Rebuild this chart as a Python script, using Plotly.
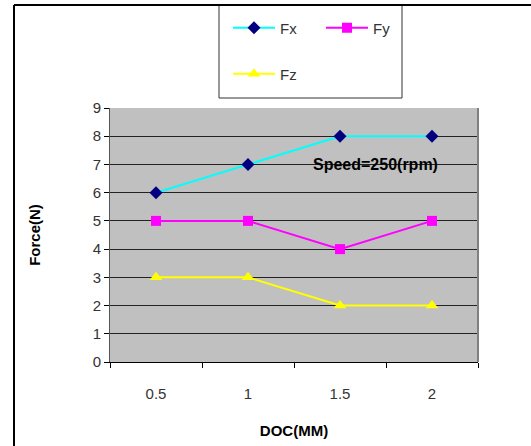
import plotly.graph_objects as go

doc = ["0.5", "1", "1.5", "2"]
fx = [6, 7, 8, 8]
fy = [5, 5, 4, 5]
fz = [3, 3, 2, 2]

L, R, T, B = 110, 53, 108, 84
W, H = 531, 446
pw, ph = W - L - R, H - T - B

def px(x):
    return (x - L) / pw

def py(y):
    return (H - B - y) / ph

fig = go.Figure()
fig.add_trace(go.Scatter(x=doc, y=fx, name="Fx", mode="lines+markers",
                         line=dict(color="#00FFFF", width=2),
                         marker=dict(symbol="diamond", size=10, color="#000080"),
                         legend="legend"))
fig.add_trace(go.Scatter(x=doc, y=fy, name="Fy", mode="lines+markers",
                         line=dict(color="#FF00FF", width=2),
                         marker=dict(symbol="square", size=10, color="#FF00FF"),
                         legend="legend"))
fig.add_trace(go.Scatter(x=doc, y=fz, name="Fz", mode="lines+markers",
                         line=dict(color="#FFFF00", width=2),
                         marker=dict(symbol="triangle-up", size=11, color="#FFFF00"),
                         legend="legend2"))

font_main = "Liberation Sans, Arial, sans-serif"

fig.update_layout(
    width=W, height=H,
    margin=dict(l=L, r=R, t=T, b=B, autoexpand=False),
    paper_bgcolor="white",
    plot_bgcolor="#C0C0C0",
    font=dict(family=font_main, size=14, color="#222"),
    legend=dict(orientation="h", x=px(228), y=py(28), xanchor="left", yanchor="middle",
                bgcolor="rgba(0,0,0,0)", itemwidth=42, entrywidth=36, entrywidthmode="pixels",
                font=dict(size=15, color="#333")),
    legend2=dict(orientation="h", x=px(228), y=py(74), xanchor="left", yanchor="middle",
                 bgcolor="rgba(0,0,0,0)", itemwidth=42,
                 font=dict(size=15, color="#333")),
    xaxis=dict(type="category", range=[-0.5, 3.5], tickson="boundaries", ticks="outside", ticklen=5,
               tickcolor="black", showline=True, linecolor="black", linewidth=1,
               showgrid=False, tickfont=dict(size=15, color="#333"), automargin=False,
               ticklabelstandoff=18,
               title=dict(text="<b>DOC(MM)</b>", font=dict(size=15, color="black"), standoff=24)),
    yaxis=dict(range=[0, 9], dtick=1, ticks="outside", ticklen=5, tickcolor="black",
               showline=True, linecolor="#555", linewidth=1, automargin=False,
               showgrid=True, gridcolor="#222", gridwidth=1, zeroline=False,
               tickfont=dict(size=15, color="#333"),
               title=dict(text="<b>Force(N)</b>", font=dict(size=15, color="black"), standoff=48)),
    showlegend=True,
)

fig.add_annotation(text="<b>Speed=250(rpm)</b>", x=px(375), y=py(164), xref="paper", yref="paper",
                   xanchor="center", yanchor="middle",
                   showarrow=False, font=dict(size=16, color="black"))

# plot-area right border
fig.add_shape(type="line", xref="paper", yref="paper", x0=1, x1=1, y0=0, y1=1,
              line=dict(color="#808080", width=2))
# legend box
fig.add_shape(type="rect", xref="paper", yref="paper", x0=px(219), x1=px(402), y0=py(98), y1=py(5),
              line=dict(color="#333", width=1))
# chart border (left and top)
fig.add_shape(type="line", xref="paper", yref="paper", x0=px(14), x1=px(14), y0=py(446), y1=py(5),
              line=dict(color="black", width=2))
fig.add_shape(type="line", xref="paper", yref="paper", x0=px(14), x1=px(531), y0=py(5), y1=py(5),
              line=dict(color="black", width=2))

fig.write_html("out.html")
